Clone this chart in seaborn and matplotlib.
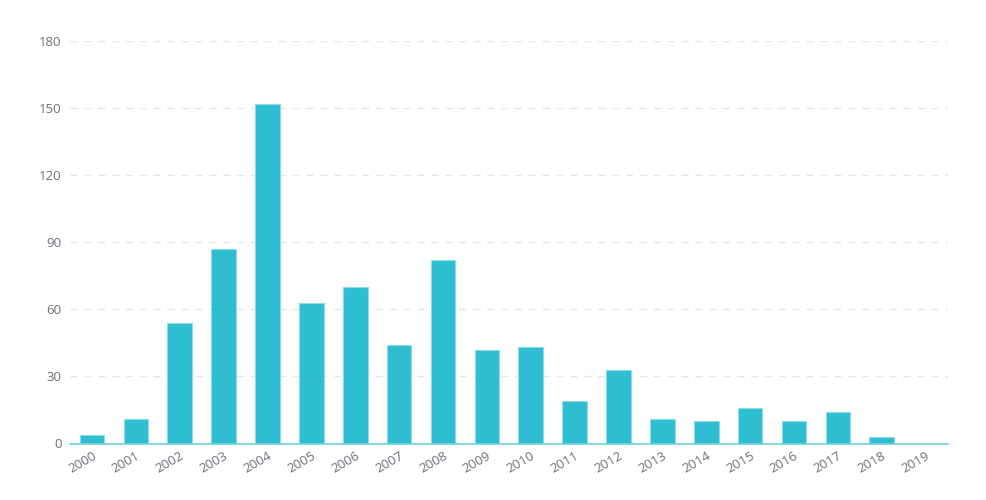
import matplotlib
matplotlib.use("Agg")
import matplotlib.pyplot as plt
import seaborn as sns
import pandas as pd

years = [str(y) for y in range(2000, 2020)]
counts = [4, 11, 54, 87, 152, 63, 70, 44, 82, 42, 43, 19, 33, 11, 10, 16, 10, 14, 3, 0]
yticks = [0, 30, 60, 90, 120, 150, 180]

sns.set_theme(style="white")
plt.rcParams['font.family'] = ['Open Sans', 'DejaVu Sans']

df = pd.DataFrame({"year": years, "count": counts})

fig = plt.figure(figsize=(9.87, 5.0), dpi=100)
ax = fig.add_axes([0.071, 0.113, 0.889, 0.805])

sns.barplot(data=df, x="year", y="count", ax=ax, color="#2ebdd1", saturation=1,
            width=0.56, edgecolor="#8fdce6", linewidth=0.8)

ax.set_ylim(0, 180)
ax.set_xlim(-0.5, len(years) - 0.5)
ax.set_yticks(yticks)
ax.set_xlabel("")
ax.set_ylabel("")
ax.yaxis.grid(True, color="#e0e6f1", linestyle=(0, (5, 5)), linewidth=1)
ax.set_axisbelow(True)
for s in ["top", "right", "left"]:
    ax.spines[s].set_visible(False)
ax.spines["bottom"].set_color("#6fd0dc")
ax.spines["bottom"].set_linewidth(1.2)

ax.tick_params(axis="y", length=0, pad=6, labelsize=9.5, labelcolor="#6e7079")
ax.tick_params(axis="x", length=0, pad=4, labelsize=9.5, labelcolor="#6e7079")
plt.setp(ax.get_xticklabels(), rotation=30, ha="right", rotation_mode="anchor")

fig.savefig("out.png", dpi=100, facecolor="white")
